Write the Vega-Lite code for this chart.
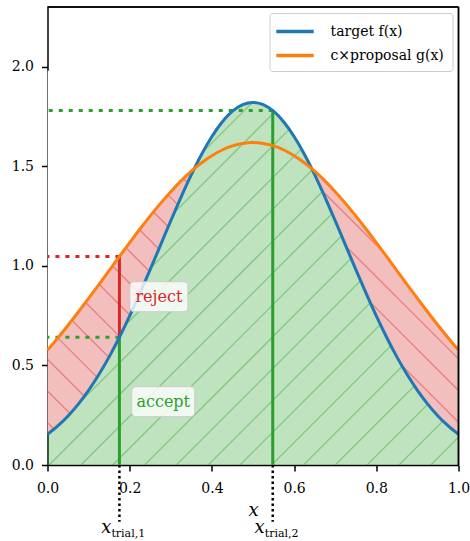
{
  "$schema": "https://vega.github.io/schema/vega-lite/v6.json",
  "width": 411,
  "height": 458,
  "autosize": "none",
  "padding": {"left": 47.5, "top": 7, "right": 11.5, "bottom": 76},
  "background": "white",
  "datasets": {
    "curve": [
      {"x": 0.0, "f": 0.1542, "g": 0.577},
      {"x": 0.025, "f": 0.1962, "g": 0.638},
      {"x": 0.05, "f": 0.2465, "g": 0.7019},
      {"x": 0.075, "f": 0.3059, "g": 0.7682},
      {"x": 0.1, "f": 0.375, "g": 0.8365},
      {"x": 0.125, "f": 0.4541, "g": 0.9061},
      {"x": 0.15, "f": 0.5431, "g": 0.9765},
      {"x": 0.175, "f": 0.6416, "g": 1.047},
      {"x": 0.2, "f": 0.7486, "g": 1.1168},
      {"x": 0.225, "f": 0.8628, "g": 1.185},
      {"x": 0.25, "f": 0.9823, "g": 1.2509},
      {"x": 0.275, "f": 1.1045, "g": 1.3137},
      {"x": 0.3, "f": 1.2267, "g": 1.3726},
      {"x": 0.325, "f": 1.3457, "g": 1.4268},
      {"x": 0.35, "f": 1.4581, "g": 1.4754},
      {"x": 0.357, "f": 1.488, "g": 1.488},
      {"x": 0.375, "f": 1.5606, "g": 1.5179},
      {"x": 0.4, "f": 1.6497, "g": 1.5535},
      {"x": 0.425, "f": 1.7226, "g": 1.5819},
      {"x": 0.45, "f": 1.7766, "g": 1.6024},
      {"x": 0.475, "f": 1.8098, "g": 1.6148},
      {"x": 0.5, "f": 1.821, "g": 1.619},
      {"x": 0.525, "f": 1.8098, "g": 1.6148},
      {"x": 0.55, "f": 1.7766, "g": 1.6024},
      {"x": 0.575, "f": 1.7226, "g": 1.5819},
      {"x": 0.6, "f": 1.6497, "g": 1.5535},
      {"x": 0.625, "f": 1.5606, "g": 1.5179},
      {"x": 0.643, "f": 1.488, "g": 1.488},
      {"x": 0.65, "f": 1.4581, "g": 1.4754},
      {"x": 0.675, "f": 1.3457, "g": 1.4268},
      {"x": 0.7, "f": 1.2267, "g": 1.3726},
      {"x": 0.725, "f": 1.1045, "g": 1.3137},
      {"x": 0.75, "f": 0.9823, "g": 1.2509},
      {"x": 0.775, "f": 0.8628, "g": 1.185},
      {"x": 0.8, "f": 0.7486, "g": 1.1168},
      {"x": 0.825, "f": 0.6416, "g": 1.047},
      {"x": 0.85, "f": 0.5431, "g": 0.9765},
      {"x": 0.875, "f": 0.4541, "g": 0.9061},
      {"x": 0.9, "f": 0.375, "g": 0.8365},
      {"x": 0.925, "f": 0.3059, "g": 0.7682},
      {"x": 0.95, "f": 0.2465, "g": 0.7019},
      {"x": 0.975, "f": 0.1962, "g": 0.638},
      {"x": 1.0, "f": 0.1542, "g": 0.577}
    ],
    "hatchG": [
      {"id": "g-6", "x": -0.4602, "y": 0}, {"id": "g-6", "x": 0.4598, "y": 1.9},
      {"id": "g-5", "x": -0.3829, "y": 0}, {"id": "g-5", "x": 0.5371, "y": 1.9},
      {"id": "g-4", "x": -0.3055, "y": 0}, {"id": "g-4", "x": 0.6145, "y": 1.9},
      {"id": "g-3", "x": -0.2281, "y": 0}, {"id": "g-3", "x": 0.6919, "y": 1.9},
      {"id": "g-2", "x": -0.1507, "y": 0}, {"id": "g-2", "x": 0.7693, "y": 1.9},
      {"id": "g-1", "x": -0.0734, "y": 0}, {"id": "g-1", "x": 0.8466, "y": 1.9},
      {"id": "g0", "x": 0.004, "y": 0}, {"id": "g0", "x": 0.924, "y": 1.9},
      {"id": "g1", "x": 0.0814, "y": 0}, {"id": "g1", "x": 1.0014, "y": 1.9},
      {"id": "g2", "x": 0.1587, "y": 0}, {"id": "g2", "x": 1.0787, "y": 1.9},
      {"id": "g3", "x": 0.2361, "y": 0}, {"id": "g3", "x": 1.1561, "y": 1.9},
      {"id": "g4", "x": 0.3135, "y": 0}, {"id": "g4", "x": 1.2335, "y": 1.9},
      {"id": "g5", "x": 0.3909, "y": 0}, {"id": "g5", "x": 1.3109, "y": 1.9},
      {"id": "g6", "x": 0.4682, "y": 0}, {"id": "g6", "x": 1.3882, "y": 1.9},
      {"id": "g7", "x": 0.5456, "y": 0}, {"id": "g7", "x": 1.4656, "y": 1.9},
      {"id": "g8", "x": 0.623, "y": 0}, {"id": "g8", "x": 1.543, "y": 1.9},
      {"id": "g9", "x": 0.7003, "y": 0}, {"id": "g9", "x": 1.6203, "y": 1.9},
      {"id": "g10", "x": 0.7777, "y": 0}, {"id": "g10", "x": 1.6977, "y": 1.9},
      {"id": "g11", "x": 0.8551, "y": 0}, {"id": "g11", "x": 1.7751, "y": 1.9},
      {"id": "g12", "x": 0.9324, "y": 0}, {"id": "g12", "x": 1.8524, "y": 1.9}
    ],
    "hatchR": [
      {"id": "r1", "x": 0.0, "y": 0.2127}, {"id": "r1", "x": 0.0159, "y": 0.1799},
      {"id": "r2", "x": 0.0, "y": 0.3718}, {"id": "r2", "x": 0.0551, "y": 0.258},
      {"id": "r3", "x": 0.0, "y": 0.5308}, {"id": "r3", "x": 0.0898, "y": 0.3453},
      {"id": "r4", "x": 0.0243, "y": 0.6396}, {"id": "r4", "x": 0.1209, "y": 0.4401},
      {"id": "r5", "x": 0.0586, "y": 0.7278}, {"id": "r5", "x": 0.1493, "y": 0.5404},
      {"id": "r6", "x": 0.0921, "y": 0.8177}, {"id": "r6", "x": 0.1758, "y": 0.6448},
      {"id": "r7", "x": 0.1249, "y": 0.909}, {"id": "r7", "x": 0.2008, "y": 0.7522},
      {"id": "r8", "x": 0.1575, "y": 1.0006}, {"id": "r8", "x": 0.2248, "y": 0.8616},
      {"id": "r9", "x": 0.1902, "y": 1.0921}, {"id": "r9", "x": 0.248, "y": 0.9727},
      {"id": "r10", "x": 0.2234, "y": 1.1826}, {"id": "r10", "x": 0.2709, "y": 1.0845},
      {"id": "r11", "x": 0.2573, "y": 1.2716}, {"id": "r11", "x": 0.2937, "y": 1.1964},
      {"id": "r12", "x": 0.2926, "y": 1.3577}, {"id": "r12", "x": 0.3169, "y": 1.3075},
      {"id": "r13", "x": 0.3305, "y": 1.4385}, {"id": "r13", "x": 0.3407, "y": 1.4175},
      {"id": "r14", "x": 0.6682, "y": 1.3772}, {"id": "r14", "x": 0.82, "y": 1.0637},
      {"id": "r15", "x": 0.7263, "y": 1.0981}, {"id": "r15", "x": 1.0, "y": 0.5328},
      {"id": "r16", "x": 0.7844, "y": 0.8191}, {"id": "r16", "x": 1.0, "y": 0.3738},
      {"id": "r17", "x": 0.8612, "y": 0.5015}, {"id": "r17", "x": 1.0, "y": 0.2148}
    ],
    "trials": [
      {"trial": 1, "x": 0.175, "f": 0.6416, "g": 1.047, "sub": "trial,1"},
      {"trial": 2, "x": 0.548, "f": 1.78, "g": 1.6037, "sub": "trial,2"}
    ],
    "labels": [
      {"label": "reject", "x": 0.271, "y": 0.845},
      {"label": "accept", "x": 0.2816, "y": 0.318}
    ]
  },
  "config": {
    "view": {"stroke": null},
    "font": "DejaVu Serif",
    "axis": {
      "domainColor": "black", "domainWidth": 1.5, "tickColor": "black", "tickWidth": 1.5, "tickSize": 6,
      "labelFont": "DejaVu Serif", "labelFontSize": 14, "labelColor": "black", "grid": false, "zindex": 1,
      "titleFont": "DejaVu Serif", "titleColor": "black", "labelFlush": false, "labelOverlap": false
    },
    "legend": {
      "labelFont": "DejaVu Serif", "labelFontSize": 14, "labelColor": "black"
    }
  },
  "layer": [
    {
      "data": {"name": "curve"},
      "mark": {"type": "area", "color": "#2ca02c", "opacity": 0.3, "interpolate": "monotone"},
      "encoding": {
        "x": {"field": "x", "type": "quantitative",
              "scale": {"domain": [0, 1], "nice": false, "zero": false},
              "axis": {"values": [0, 0.2, 0.4, 0.6, 0.8, 1], "format": ".1f", "title": "x",
                       "labelFont": "DejaVu Serif", "titleFont": "DejaVu Serif",
                       "titleFontStyle": "italic", "titleFontWeight": "normal", "titleFontSize": 18,
                       "titlePadding": 6, "labelPadding": 10}},
        "y": {"field": "f", "type": "quantitative",
              "scale": {"domain": [0, 2.3], "nice": false},
              "axis": {"values": [0, 0.5, 1, 1.5, 2], "format": ".1f", "title": null, "labelPadding": 8,
                       "labelFont": "DejaVu Serif"}}
      }
    },
    {
      "data": {"name": "hatchG"},
      "mark": {"type": "line", "color": "#2ca02c", "opacity": 0.4, "strokeWidth": 1.3, "clip": true},
      "encoding": {
        "x": {"field": "x", "type": "quantitative"},
        "y": {"field": "y", "type": "quantitative"},
        "detail": {"field": "id", "type": "nominal"}
      }
    },
    {
      "data": {"name": "curve"},
      "mark": {"type": "area", "color": "white", "opacity": 1, "interpolate": "monotone", "clip": true},
      "encoding": {
        "x": {"field": "x", "type": "quantitative"},
        "y": {"field": "f", "type": "quantitative"},
        "y2": {"datum": 1.98}
      }
    },
    {
      "data": {"name": "curve"},
      "transform": [{"filter": "datum.x <= 0.357"}],
      "mark": {"type": "area", "color": "#d62728", "opacity": 0.3, "interpolate": "monotone"},
      "encoding": {
        "x": {"field": "x", "type": "quantitative"},
        "y": {"field": "f", "type": "quantitative"},
        "y2": {"field": "g"}
      }
    },
    {
      "data": {"name": "curve"},
      "transform": [{"filter": "datum.x >= 0.643"}],
      "mark": {"type": "area", "color": "#d62728", "opacity": 0.3, "interpolate": "monotone"},
      "encoding": {
        "x": {"field": "x", "type": "quantitative"},
        "y": {"field": "f", "type": "quantitative"},
        "y2": {"field": "g"}
      }
    },
    {
      "data": {"name": "hatchR"},
      "mark": {"type": "line", "color": "#d62728", "opacity": 0.42, "strokeWidth": 1.3, "clip": true},
      "encoding": {
        "x": {"field": "x", "type": "quantitative"},
        "y": {"field": "y", "type": "quantitative"},
        "detail": {"field": "id", "type": "nominal"}
      }
    },
    {
      "data": {"name": "trials"},
      "mark": {"type": "rule", "color": "#2ca02c", "strokeWidth": 3, "strokeDash": [4, 6]},
      "encoding": {
        "x": {"field": "x", "type": "quantitative"},
        "x2": {"datum": 0},
        "y": {"field": "f", "type": "quantitative"}
      }
    },
    {
      "data": {"name": "trials"},
      "transform": [{"filter": "datum.trial == 1"}],
      "mark": {"type": "rule", "color": "#d62728", "strokeWidth": 3, "strokeDash": [4, 6]},
      "encoding": {
        "x": {"field": "x", "type": "quantitative"},
        "x2": {"datum": 0},
        "y": {"field": "g", "type": "quantitative"}
      }
    },
    {
      "data": {"name": "trials"},
      "mark": {"type": "rule", "color": "#2ca02c", "strokeWidth": 3},
      "encoding": {
        "x": {"field": "x", "type": "quantitative"},
        "y": {"field": "f", "type": "quantitative"},
        "y2": {"datum": 0}
      }
    },
    {
      "data": {"name": "trials"},
      "transform": [{"filter": "datum.trial == 1"}],
      "mark": {"type": "rule", "color": "#d62728", "strokeWidth": 3},
      "encoding": {
        "x": {"field": "x", "type": "quantitative"},
        "y": {"field": "f", "type": "quantitative"},
        "y2": {"field": "g"}
      }
    },
    {
      "data": {"name": "curve"},
      "mark": {"type": "line", "strokeWidth": 3, "interpolate": "monotone"},
      "encoding": {
        "x": {"field": "x", "type": "quantitative"},
        "y": {"field": "f", "type": "quantitative"},
        "color": {"datum": "target f(x)", "type": "nominal",
                  "scale": {"domain": ["target f(x)", "c×proposal g(x)"], "range": ["#1f77b4", "#ff7f0e"]},
                  "legend": {"title": null, "orient": "top-right", "offset": 6,
                             "symbolType": "M-2.2,0H2.2", "symbolSize": 289, "symbolOffset": 7,
                             "symbolStrokeWidth": 3.5, "labelOffset": 25, "padding": 8,
                             "rowPadding": 6, "strokeColor": "#cccccc", "fillColor": "rgba(255,255,255,0.8)",
                             "cornerRadius": 3, "labelFont": "DejaVu Serif", "labelFontSize": 14,
                             "labelColor": "black"}}
      }
    },
    {
      "data": {"name": "curve"},
      "mark": {"type": "line", "strokeWidth": 3, "interpolate": "monotone"},
      "encoding": {
        "x": {"field": "x", "type": "quantitative"},
        "y": {"field": "g", "type": "quantitative"},
        "color": {"datum": "c×proposal g(x)", "type": "nominal"}
      }
    },
    {
      "data": {"name": "labels"},
      "transform": [{"filter": "datum.label == 'reject'"}],
      "mark": {"type": "point", "shape": "M-0.86,-0.517H0.86A0.14,0.14 0 0 1 1,-0.377V0.377A0.14,0.14 0 0 1 0.86,0.517H-0.86A0.14,0.14 0 0 1 -1,0.377V-0.377A0.14,0.14 0 0 1 -0.86,-0.517Z",
               "size": 3364, "filled": true, "fill": "white", "fillOpacity": 0.8, "stroke": "#cccccc", "strokeWidth": 1, "opacity": 1},
      "encoding": {
        "x": {"field": "x", "type": "quantitative"},
        "y": {"field": "y", "type": "quantitative"}
      }
    },
    {
      "data": {"name": "labels"},
      "transform": [{"filter": "datum.label == 'accept'"}],
      "mark": {"type": "point", "shape": "M-0.87,-0.476H0.87A0.13,0.13 0 0 1 1,-0.346V0.346A0.13,0.13 0 0 1 0.87,0.476H-0.87A0.13,0.13 0 0 1 -1,0.346V-0.346A0.13,0.13 0 0 1 -0.87,-0.476Z",
               "size": 3969, "filled": true, "fill": "white", "fillOpacity": 0.8, "stroke": "#cccccc", "strokeWidth": 1, "opacity": 1},
      "encoding": {
        "x": {"field": "x", "type": "quantitative"},
        "y": {"field": "y", "type": "quantitative"}
      }
    },
    {
      "data": {"name": "labels"},
      "transform": [{"filter": "datum.label == 'reject'"}],
      "mark": {"type": "text", "color": "#d62728", "font": "DejaVu Serif", "fontSize": 16, "align": "center", "baseline": "middle"},
      "encoding": {
        "x": {"field": "x", "type": "quantitative"},
        "y": {"field": "y", "type": "quantitative"},
        "text": {"field": "label"}
      }
    },
    {
      "data": {"name": "labels"},
      "transform": [{"filter": "datum.label == 'accept'"}],
      "mark": {"type": "text", "color": "#2ca02c", "font": "DejaVu Serif", "fontSize": 16, "align": "center", "baseline": "middle"},
      "encoding": {
        "x": {"field": "x", "type": "quantitative"},
        "y": {"field": "y", "type": "quantitative"},
        "text": {"field": "label"}
      }
    },
    {
      "data": {"name": "trials"},
      "mark": {"type": "rule", "color": "black", "strokeWidth": 1.5},
      "encoding": {
        "x": {"datum": 1, "type": "quantitative"},
        "y": {"datum": 2.3, "type": "quantitative"},
        "y2": {"datum": 0}
      }
    },
    {
      "data": {"name": "trials"},
      "mark": {"type": "rule", "color": "black", "strokeWidth": 1.5},
      "encoding": {
        "x": {"datum": 1, "type": "quantitative"},
        "x2": {"datum": 0},
        "y": {"datum": 2.3, "type": "quantitative"}
      }
    },
    {
      "data": {"name": "trials"},
      "mark": {"type": "rule", "color": "black", "strokeWidth": 2.5, "strokeDash": [2.5, 3]},
      "encoding": {
        "x": {"field": "x", "type": "quantitative"},
        "y": {"datum": 0, "type": "quantitative"},
        "y2": {"datum": -0.285}
      }
    },
    {
      "data": {"name": "trials"},
      "mark": {"type": "text", "font": "DejaVu Serif", "fontStyle": "italic", "fontSize": 18, "align": "right", "baseline": "alphabetic", "dx": -8, "color": "black"},
      "encoding": {
        "x": {"field": "x", "type": "quantitative"},
        "y": {"datum": -0.339, "type": "quantitative"},
        "text": {"value": "x"}
      }
    },
    {
      "data": {"name": "trials"},
      "mark": {"type": "text", "font": "DejaVu Serif", "fontSize": 11, "align": "left", "baseline": "alphabetic", "dx": -8, "color": "black"},
      "encoding": {
        "x": {"field": "x", "type": "quantitative"},
        "y": {"datum": -0.362, "type": "quantitative"},
        "text": {"field": "sub"}
      }
    }
  ]
}
